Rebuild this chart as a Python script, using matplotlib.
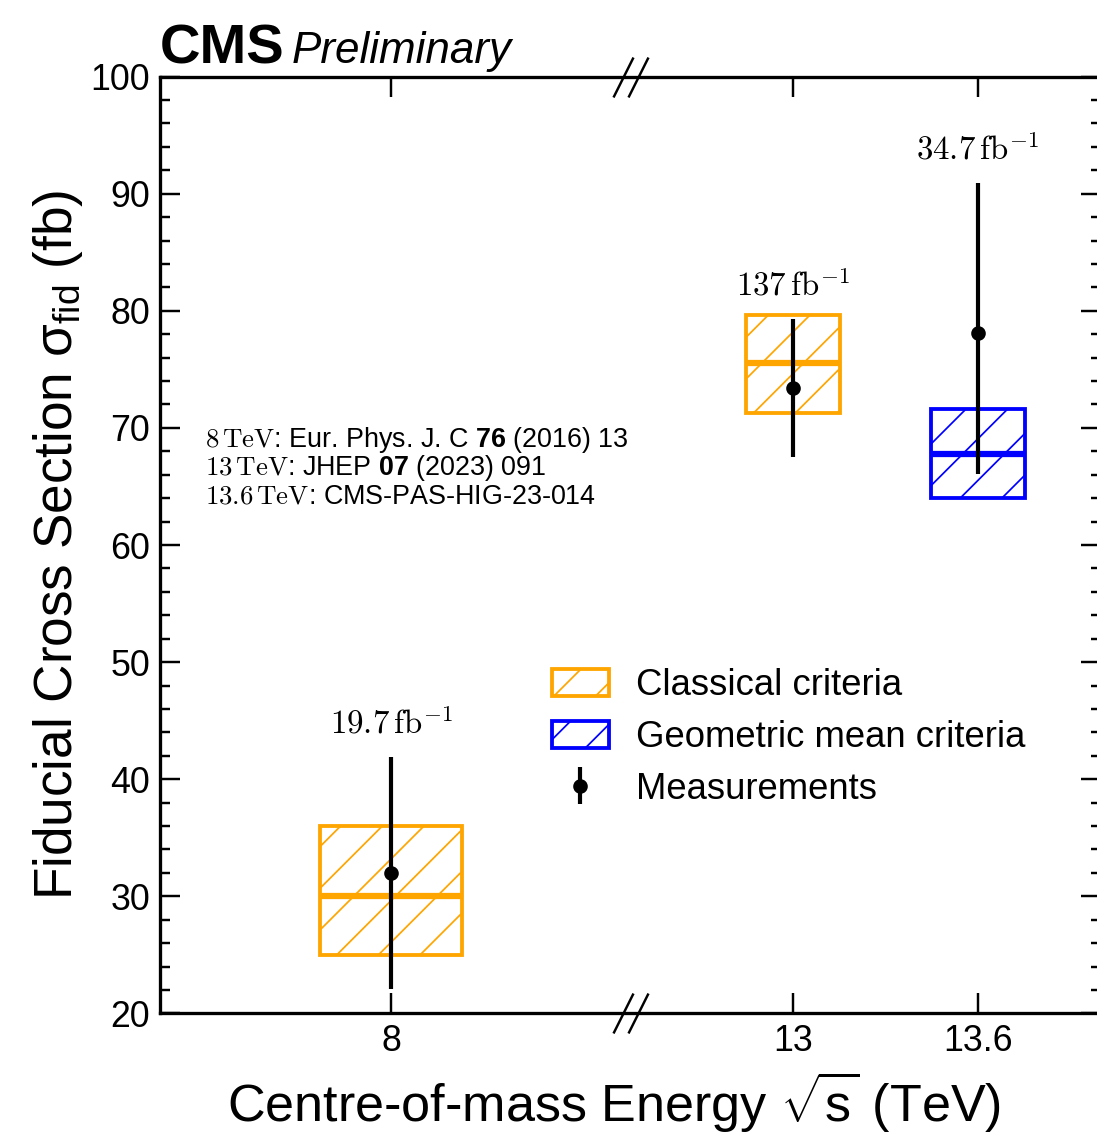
import matplotlib
matplotlib.use("Agg")
import matplotlib.pyplot as plt
from matplotlib.patches import Patch
from matplotlib.transforms import blended_transform_factory

plt.rcParams['font.family'] = ['Liberation Sans', 'DejaVu Sans']
plt.rcParams['mathtext.fontset'] = 'custom'
plt.rcParams['mathtext.rm'] = 'Liberation Sans'
plt.rcParams['mathtext.it'] = 'Liberation Sans:italic'
plt.rcParams['mathtext.bf'] = 'Liberation Sans:bold'
plt.rcParams['mathtext.tt'] = 'cmr10'   # used for the serif "TeV" bits
plt.rcParams['hatch.linewidth'] = 0.5

# data
energies = ['8', '13', '13.6']
lumis = ['19.7', '137', '34.7']
pred_kind = ['classical', 'classical', 'geometric']
pred_central = [30.0, 75.5, 67.8]
pred_low = [25.0, 71.3, 64.0]
pred_high = [36.0, 79.6, 71.6]
meas_central = [32.0, 73.4, 78.1]
meas_low = [22.1, 67.5, 66.1]
meas_high = [41.9, 79.3, 90.9]
references = [
    r'$\mathtt{8\,TeV}$: Eur. Phys. J. C $\mathbf{76}$ (2016) 13',
    r'$\mathtt{13\,TeV}$: JHEP $\mathbf{07}$ (2023) 091',
    r'$\mathtt{13.6\,TeV}$: CMS-PAS-HIG-23-014',
]

# layout (broken x axis, so positions are not the energies themselves)
x_pos = [1.0, 2.74, 3.54]
box_width = [0.613, 0.408, 0.408]
x_break = 2.035
colors = {'classical': '#ffa500', 'geometric': '#0000ff'}

fig = plt.figure(figsize=(1097 / 250, 1134 / 250), dpi=250)
ax = fig.add_axes([0.1459, 0.1063, 0.8578, 0.8262])

for x, w, kind, c, lo, hi in zip(x_pos, box_width, pred_kind, pred_central, pred_low, pred_high):
    col = colors[kind]
    ax.bar(x, hi - lo, w, bottom=lo, facecolor='none', edgecolor=col,
           hatch='//', lw=1.1, zorder=2)
    ax.hlines(c, x - w / 2, x + w / 2, color=col, lw=1.8, zorder=3)

yerr = [[c - l for c, l in zip(meas_central, meas_low)],
        [h - c for c, h in zip(meas_central, meas_high)]]
meas = ax.errorbar(x_pos, meas_central, yerr=yerr, fmt='o', color='k', ms=3.2,
                   elinewidth=1.2, capsize=0, zorder=4, label='Measurements')

for x, hi, l in zip(x_pos, meas_high, lumis):
    ax.text(x, hi + 2, rf'${l}\,\mathrm{{fb}}^{{-1}}$', math_fontfamily='cm',
            ha='center', va='baseline', fontsize=9.5)

for i, line in enumerate(references):
    ax.text(0.0478, 0.6046 - i * 0.0304, line, transform=ax.transAxes,
            fontsize=7.75, va='baseline', ha='left')

ax.set_xlim(0, 4.074)
ax.set_ylim(20, 100)
ax.set_xticks(x_pos)
ax.set_xticklabels(energies)
ax.set_yticks(range(20, 101, 10))
ax.set_yticks(range(20, 101, 2), minor=True)
ax.tick_params(which='both', direction='in', top=True, right=True, width=0.7,
               labelsize=10.3)
ax.tick_params(which='major', length=5.8)
ax.tick_params(which='minor', length=2.9)
ax.tick_params(axis='y', pad=2.9)
ax.tick_params(axis='x', pad=3.0)
for s in ax.spines.values():
    s.set_linewidth(0.95)

# axis break marks
tr = blended_transform_factory(ax.transData, ax.transAxes)
for yy in (0, 1):
    ax.plot([x_break - 0.0325, x_break + 0.0325], [yy, yy], transform=tr,
            ls='none', marker=[(-1, -2), (1, 2)], ms=11.5, mew=0.7,
            color='k', clip_on=False, zorder=5)

ax.set_xlabel(r'Centre-of-mass Energy $\sqrt{\mathrm{s}}$ (TeV)', fontsize=15)
ax.set_ylabel(r'Fiducial Cross Section σ$_{\mathrm{fid}}$ (fb)', fontsize=15.3)
ax.xaxis.set_label_coords(0.4825, -0.060)
ax.yaxis.set_label_coords(-0.080, 0.5)

handles = [
    Patch(facecolor='none', edgecolor=colors['classical'], hatch='//', lw=1.1,
          label='Classical criteria'),
    Patch(facecolor='none', edgecolor=colors['geometric'], hatch='//', lw=1.1,
          label='Geometric mean criteria'),
    meas,
]
ax.legend(handles=handles, loc='upper left', bbox_to_anchor=(0.4166, 0.3685),
          frameon=False, fontsize=10.5, handlelength=1.55, handleheight=0.75,
          handletextpad=0.75, labelspacing=0.46, borderpad=0, borderaxespad=0)

fig.text(0.1459, 0.9444, 'CMS', fontsize=16.2, fontweight='bold', va='baseline')
fig.text(0.2662, 0.9444, 'Preliminary', fontsize=12.7, style='italic', va='baseline')

fig.savefig('out.png', dpi=250)
